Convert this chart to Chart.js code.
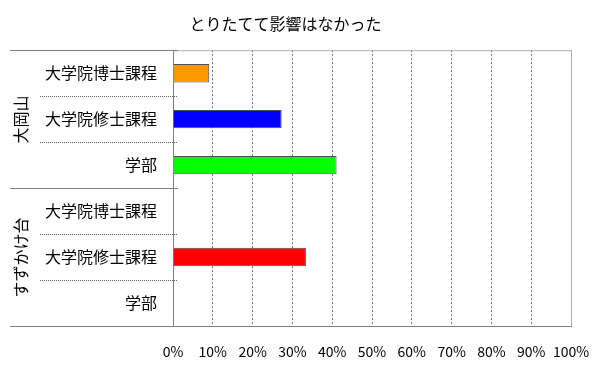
<!DOCTYPE html>
<html>
<head>
<meta charset="utf-8">
<script src="https://cdn.jsdelivr.net/npm/chart.js@4/dist/chart.umd.min.js"></script>
<style>
  html, body { margin: 0; padding: 0; background: #fff; }
  #wrap { width: 600px; height: 372px; }
</style>
</head>
<body>
<div id="wrap"><canvas id="chart" width="600" height="372"></canvas></div>
<script>
const FONT = '"Noto Sans CJK JP", "Noto Sans", sans-serif';

// Data
const title = 'とりたてて影響はなかった';
const groups = ['大岡山', 'すずかけ台'];
const groupSizes = [3, 3];
const categories = ['大学院博士課程', '大学院修士課程', '学部', '大学院博士課程', '大学院修士課程', '学部'];
const values = [9.1, 27.3, 41.1, 0, 33.4, 0];
const barColors = ['#ff9900', '#0000ff', '#00ff00', '#ff9900', '#ff0000', '#00ff00'];
const xTicks = [0, 10, 20, 30, 40, 50, 60, 70, 80, 90, 100];

// Group labels + separators on the left
const groupPlugin = {
    id: 'groupPlugin',
    afterDraw(chart) {
        const ctx = chart.ctx;
        const y = chart.scales.y;
        const area = chart.chartArea;
        const edge = area.left + 5;
        ctx.save();

        // frame top/right
        ctx.strokeStyle = '#b0b0b0';
        ctx.lineWidth = 1;
        ctx.beginPath();
        ctx.moveTo(area.left, area.top + 0.5);
        ctx.lineTo(area.right + 0.5, area.top + 0.5);
        ctx.lineTo(area.right + 0.5, area.bottom);
        ctx.stroke();

        let start = 0;
        groups.forEach((g, gi) => {
            const end = start + groupSizes[gi] - 1;
            const top = Math.round(y.getPixelForValue(start - 0.5)) + 0.5;
            const bottom = Math.round(y.getPixelForValue(end + 0.5)) + 0.5;

            ctx.setLineDash([]);
            ctx.strokeStyle = '#808080';
            ctx.beginPath();
            ctx.moveTo(10, top);
            ctx.lineTo(edge, top);
            ctx.moveTo(10, bottom);
            ctx.lineTo(edge, bottom);
            ctx.stroke();

            ctx.setLineDash([1, 1]);
            ctx.strokeStyle = '#606060';
            for (let i = start; i < end; i++) {
                const py = Math.round(y.getPixelForValue(i + 0.5)) + 0.5;
                ctx.beginPath();
                ctx.moveTo(40, py);
                ctx.lineTo(edge, py);
                ctx.stroke();
            }

            ctx.setLineDash([]);
            ctx.fillStyle = '#000';
            ctx.font = '16px ' + FONT;
            ctx.textAlign = 'center';
            ctx.textBaseline = 'middle';
            ctx.translate(21, (top + bottom) / 2);
            ctx.rotate(-Math.PI / 2);
            ctx.fillText(g, 0, 0);
            ctx.setTransform(1, 0, 0, 1, 0, 0);

            start = end + 1;
        });
        ctx.restore();
    }
};

new Chart(document.getElementById('chart'), {
    type: 'bar',
    data: {
        labels: categories,
        datasets: [{
            data: values,
            backgroundColor: barColors,
            borderColor: '#505050',
            borderWidth: (c) => (c.raw > 0 ? 1 : 0),
            barPercentage: 0.4,
            categoryPercentage: 1
        }]
    },
    options: {
        indexAxis: 'y',
        responsive: false,
        animation: false,
        layout: { padding: { left: 0, right: 29, top: 0, bottom: 0 } },
        plugins: {
            legend: { display: false },
            tooltip: { enabled: false },
            title: {
                display: true,
                text: title,
                color: '#000',
                font: { family: FONT, size: 16, weight: 'normal' },
                padding: { top: 14, bottom: 17 }
            }
        },
        scales: {
            x: {
                min: 0,
                max: 100,
                afterBuildTicks: (s) => { s.ticks = xTicks.map(v => ({ value: v })); },
                afterFit: (s) => { s.height = 46; s.paddingLeft = 0; s.paddingRight = 0; },
                ticks: {
                    callback: (v) => v + '%',
                    color: '#000',
                    font: { family: FONT, size: 14 },
                    padding: 17,
                    maxRotation: 0
                },
                grid: { color: '#707070', drawTicks: false },
                border: { display: true, color: '#808080', dash: [2, 2] }
            },
            y: {
                afterFit: (s) => { s.width = 173; },
                ticks: {
                    color: '#000',
                    font: { family: FONT, size: 16 },
                    padding: 16
                },
                grid: { display: false, drawTicks: false },
                border: { display: true, color: '#808080' }
            }
        }
    },
    plugins: [groupPlugin]
});
</script>
</body>
</html>
